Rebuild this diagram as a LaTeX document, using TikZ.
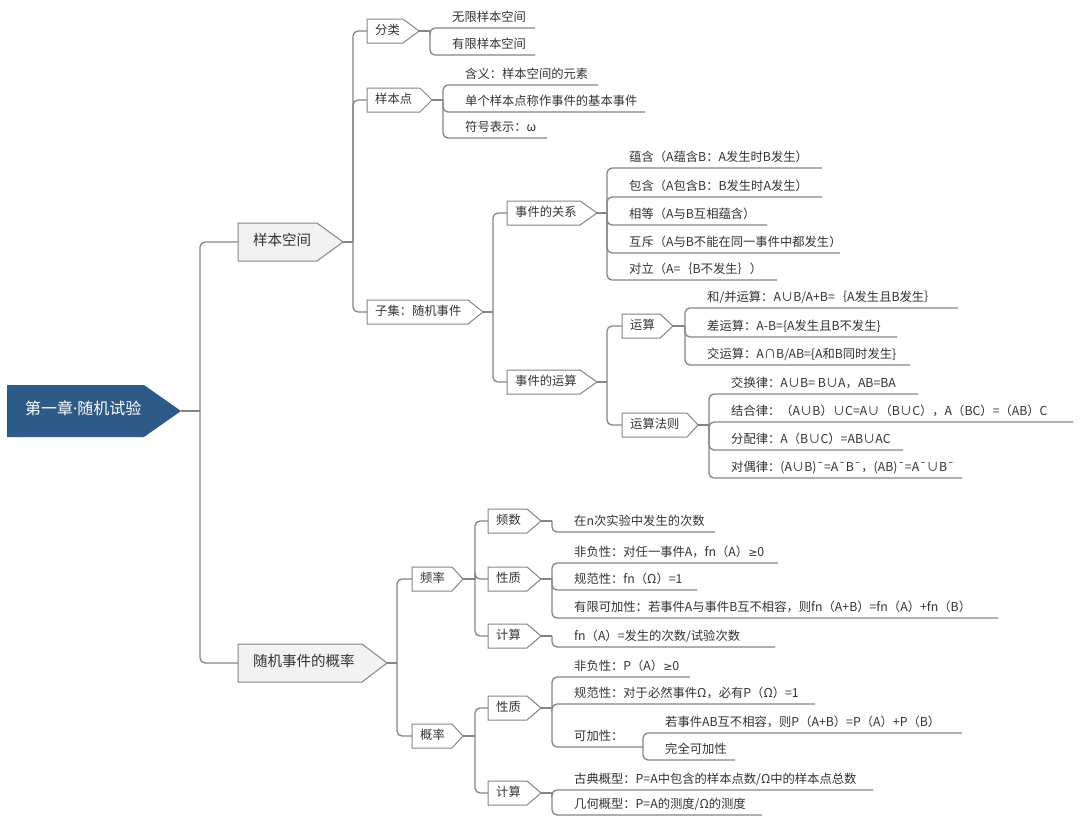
\documentclass[tikz,border=0pt]{standalone}
\usepackage{fontspec}
\setmainfont{Noto Sans CJK SC}
\newfontfamily\latinfont{Noto Sans}
\newfontfamily\symfont{DejaVu Sans}
\usetikzlibrary{calc}
\definecolor{rootblue}{HTML}{2E5A88}
\definecolor{linegray}{HTML}{858585}
\definecolor{boxgray}{HTML}{F2F2F2}
\definecolor{txt}{HTML}{333333}
\tikzset{
  conn/.style={draw=linegray, line width=1.3pt, rounded corners=5pt},
  l2shape/.style={draw=linegray, line width=1pt, fill=white},
  l1shape/.style={draw=linegray, line width=1pt, fill=boxgray},
  rootshape/.style={fill=rootblue, draw=none},
  basetx/.style={anchor=west, inner ysep=0pt, text=txt, text height=0.88em, text depth=0.12em},
  l2tx/.style={basetx, inner xsep=8pt, font=\fontsize{12.3}{14}\selectfont},
  l1tx/.style={basetx, inner xsep=15pt, font=\fontsize{14.5}{17}\selectfont},
  roottx/.style={basetx, inner xsep=18pt, text=white, font=\fontsize{16}{19}\selectfont},
  leaftx/.style={basetx, inner xsep=0pt, font=\fontsize{12.3}{14}\selectfont},
}
\newcommand{\mygeq}{{\symfont\fontsize{11}{14}\selectfont ≥}}
% #1 shape style, #2 text style, #3 name, #4 left, #5 flat right, #6 tip, #7 center y, #8 half height, #9 text
\newcommand{\topicbox}[9]{%
  \path[#1] (#4,#7-#8) -- (#5,#7-#8) -- (#6,#7) -- (#5,#7+#8) -- (#4,#7+#8) -- cycle;
  \node[#2] (#3) at (#4,#7) {#9};
  \coordinate (#3-tip) at (#6,#7);
  \coordinate (#3-in) at (#4,#7);
}
% #1 name, #2 trunk x, #3 underline y, #4 underline end x, #5 text
\newcommand{\leafitem}[5]{%
  \node[leaftx] (#1) at (#2+22,#3-10.7) {#5};
  \coordinate (#1-ul) at (#4,#3);
}
\begin{document}
\begin{tikzpicture}[x=1pt,y=-1pt]
\fill[white] (0,0) rectangle (1080,823);
\useasboundingbox (0,0) rectangle (1080,823);

% root
\topicbox{rootshape}{roottx}{root}{7}{144}{181}{411}{26}{第一章{\latinfont ·}随机试验}
\coordinate (rootj) at (200,411);
\draw[conn] (root-tip) -- (rootj);

% level 1
\topicbox{l1shape}{l1tx}{ss}{238}{317}{343}{242}{19}{样本空间}
\topicbox{l1shape}{l1tx}{gl}{238}{362}{387}{663}{19}{随机事件的概率}
\draw[conn] (rootj) |- (ss-in);
\draw[conn] (rootj) |- (gl-in);

% ===== 样本空间 =====
\coordinate (ssj) at (353,242);
\draw[conn] (ss-tip) -- (ssj);
\topicbox{l2shape}{l2tx}{fl}{367}{403}{419}{31}{12}{分类}
\topicbox{l2shape}{l2tx}{yb}{367}{420}{432}{100}{12}{样本点}
\topicbox{l2shape}{l2tx}{zj}{367}{468}{483}{312}{12}{子集：随机事件}
\draw[conn] (ssj) |- (fl-in);
\draw[conn] (ssj) |- (yb-in);
\draw[conn] (ssj) |- (zj-in);

% 分类
\coordinate (flj) at (430,31);
\draw[conn] (fl-tip) -- (flj);
\leafitem{fla}{430}{28}{535}{无限样本空间}
\leafitem{flb}{430}{55}{535}{有限样本空间}
\draw[conn] (flj) |- (fla-ul);
\draw[conn] (flj) |- (flb-ul);

% 样本点
\coordinate (ybj) at (443,100);
\draw[conn] (yb-tip) -- (ybj);
\leafitem{yba}{443}{85}{598}{含义：样本空间的元素}
\leafitem{ybb}{443}{112}{645}{单个样本点称作事件的基本事件}
\leafitem{ybc}{443}{138}{547}{符号表示：ω}
\draw[conn] (ybj) |- (yba-ul);
\draw[conn] (ybj) |- (ybb-ul);
\draw[conn] (ybj) |- (ybc-ul);

% 子集：随机事件
\coordinate (zjj) at (493,312);
\draw[conn] (zj-tip) -- (zjj);
\topicbox{l2shape}{l2tx}{gx}{507}{580}{597}{213}{12}{事件的关系}
\topicbox{l2shape}{l2tx}{ys}{507}{580}{597}{382}{12}{事件的运算}
\draw[conn] (zjj) |- (gx-in);
\draw[conn] (zjj) |- (ys-in);

% 事件的关系
\coordinate (gxj) at (607,213);
\draw[conn] (gx-tip) -- (gxj);
\leafitem{gxa}{607}{168}{822}{蕴含（A蕴含B：A发生时B发生）}
\leafitem{gxb}{607}{197}{822}{包含（A包含B：B发生时A发生）}
\leafitem{gxc}{607}{225}{767}{相等（A与B互相蕴含）}
\leafitem{gxd}{607}{253}{840}{互斥（A与B不能在同一事件中都发生）}
\leafitem{gxe}{607}{280}{777}{对立（A=｛B不发生｝）}
\foreach \c in {gxa,gxb,gxc,gxd,gxe} \draw[conn] (gxj) |- (\c-ul);

% 事件的运算
\coordinate (ysj) at (607,382);
\draw[conn] (ys-tip) -- (ysj);
\topicbox{l2shape}{l2tx}{yss}{622}{660}{673}{326}{12}{运算}
\topicbox{l2shape}{l2tx}{ysf}{622}{687}{698}{425}{12}{运算法则}
\draw[conn] (ysj) |- (yss-in);
\draw[conn] (ysj) |- (ysf-in);

\coordinate (yssj) at (685,326);
\draw[conn] (yss-tip) -- (yssj);
\leafitem{yssa}{685}{308}{958}{和/并运算：A∪B/A+B=｛A发生且B发生｝}
\leafitem{yssb}{685}{337}{897}{差运算：A-B=\{A发生且B不发生\}}
\leafitem{yssc}{685}{365}{910}{交运算：A∩B/AB=\{A和B同时发生\}}
\foreach \c in {yssa,yssb,yssc} \draw[conn] (yssj) |- (\c-ul);

\coordinate (ysfj) at (709,425);
\draw[conn] (ysf-tip) -- (ysfj);
\leafitem{ysfa}{709}{394}{918}{交换律：A∪B= B∪A，AB=BA}
\leafitem{ysfb}{709}{422}{1073}{结合律：（A∪B）∪C=A∪（B∪C），A（BC）=（AB）C}
\leafitem{ysfc}{709}{450}{903}{分配律：A（B∪C）=AB∪AC}
\leafitem{ysfd}{709}{478}{962}{对偶律：(A∪B)¯=A¯B¯，(AB)¯=A¯∪B¯}
\foreach \c in {ysfa,ysfb,ysfc,ysfd} \draw[conn] (ysfj) |- (\c-ul);

% ===== 随机事件的概率 =====
\coordinate (glj) at (397,663);
\draw[conn] (gl-tip) -- (glj);
\topicbox{l2shape}{l2tx}{pl}{412}{452}{463}{579}{12}{频率}
\topicbox{l2shape}{l2tx}{gll}{412}{452}{463}{736}{12}{概率}
\draw[conn] (glj) |- (pl-in);
\draw[conn] (glj) |- (gll-in);

% 频率
\coordinate (plj) at (475,579);
\draw[conn] (pl-tip) -- (plj);
\topicbox{l2shape}{l2tx}{ps}{488}{527}{541}{521}{12}{频数}
\topicbox{l2shape}{l2tx}{pz}{488}{527}{541}{579}{12}{性质}
\topicbox{l2shape}{l2tx}{pj}{488}{527}{541}{636}{12}{计算}
\draw[conn] (plj) |- (ps-in);
\draw[conn] (plj) |- (pz-in);
\draw[conn] (plj) |- (pj-in);

\coordinate (psj) at (552,521);
\draw[conn] (ps-tip) -- (psj);
\leafitem{psa}{552}{532}{715}{在n次实验中发生的次数}
\draw[conn] (psj) |- (psa-ul);

\coordinate (pzj) at (552,579);
\draw[conn] (pz-tip) -- (pzj);
\leafitem{pza}{552}{563}{778}{非负性：对任一事件A，fn（A）\mygeq 0}
\leafitem{pzb}{552}{590}{697}{规范性：fn（Ω）=1}
\leafitem{pzc}{552}{618}{998}{有限可加性：若事件A与事件B互不相容，则fn（A+B）=fn（A）+fn（B）}
\foreach \c in {pza,pzb,pzc} \draw[conn] (pzj) |- (\c-ul);

\coordinate (pjj) at (552,636);
\draw[conn] (pj-tip) -- (pjj);
\leafitem{pja}{552}{647}{775}{fn（A）=发生的次数/试验次数}
\draw[conn] (pjj) |- (pja-ul);

% 概率
\coordinate (gllj) at (475,736);
\draw[conn] (gll-tip) -- (gllj);
\topicbox{l2shape}{l2tx}{gz}{488}{527}{541}{708}{12}{性质}
\topicbox{l2shape}{l2tx}{gj}{488}{527}{541}{793}{12}{计算}
\draw[conn] (gllj) |- (gz-in);
\draw[conn] (gllj) |- (gj-in);

\coordinate (gzj) at (552,708);
\draw[conn] (gz-tip) -- (gzj);
\leafitem{gza}{552}{677}{690}{非负性：P（A）\mygeq 0}
\leafitem{gzb}{552}{704}{815}{规范性：对于必然事件Ω，必有P（Ω）=1}
\leafitem{gzc}{552}{747}{643}{可加性：}
\foreach \c in {gza,gzb,gzc} \draw[conn] (gzj) |- (\c-ul);

\coordinate (gzcj) at (643,747);
\leafitem{gzca}{643}{733}{962}{若事件AB互不相容，则P（A+B）=P（A）+P（B）}
\leafitem{gzcb}{643}{760}{735}{完全可加性}
\draw[conn] (gzcj) |- (gzca-ul);
\draw[conn] (gzcj) |- (gzcb-ul);

\coordinate (gjj) at (552,793);
\draw[conn] (gj-tip) -- (gjj);
\leafitem{gja}{552}{790}{873}{古典概型：P=A中包含的样本点数/Ω中的样本点总数}
\leafitem{gjb}{552}{815}{762}{几何概型：P=A的测度/Ω的测度}
\draw[conn] (gjj) |- (gja-ul);
\draw[conn] (gjj) |- (gjb-ul);

\end{tikzpicture}
\end{document}
